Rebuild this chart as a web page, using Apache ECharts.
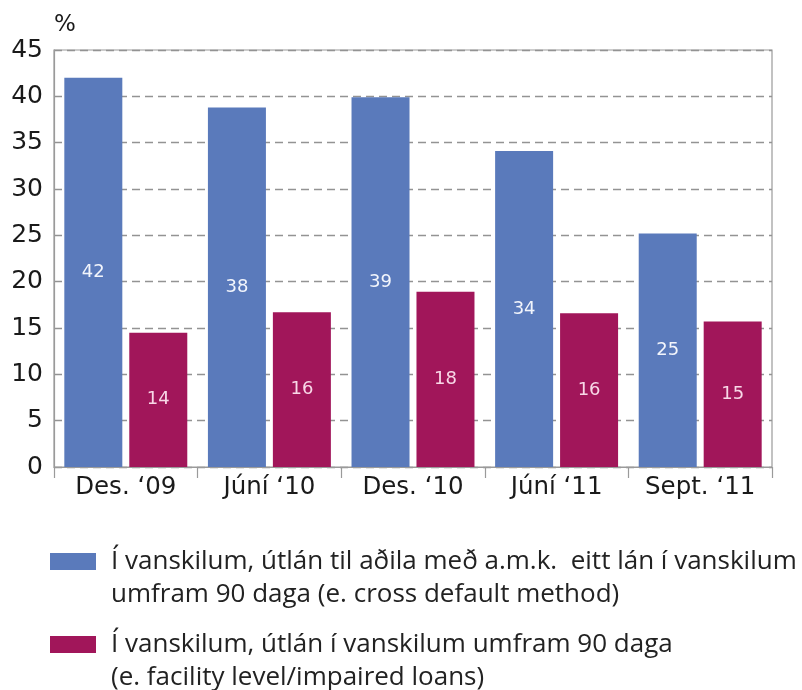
<!DOCTYPE html>
<html>
<head>
<meta charset="utf-8">
<script src="https://cdn.jsdelivr.net/npm/echarts@6/dist/echarts.min.js"></script>
<style>
html,body{margin:0;padding:0;background:#fff;}
#chart{width:802px;height:690px;}
</style>
</head>
<body>
<div id="chart"></div>
<script>
const categories = ['Des. \u201809', 'J\u00fan\u00ed \u201810', 'Des. \u201810', 'J\u00fan\u00ed \u201811', 'Sept. \u201811'];
const crossDefault = [42.0, 38.8, 39.9, 34.1, 25.2];
const facilityLevel = [14.5, 16.7, 18.9, 16.6, 15.7];
const seriesNames = [
  '\u00cd vanskilum, \u00fatl\u00e1n til a\u00f0ila me\u00f0 a.m.k.  eitt l\u00e1n \u00ed vanskilum\numfram 90 daga (e. cross default method)',
  '\u00cd vanskilum, \u00fatl\u00e1n \u00ed vanskilum umfram 90 daga\n(e. facility level/impaired loans)'
];
const yTicks = {min: 0, max: 45, interval: 5};
const unitLabel = '%';

const BLUE = '#5a7abb';
const CRIMSON = '#a1165a';
const AXIS_FONT = "'DejaVu Sans', Verdana, sans-serif";
const LEGEND_FONT = "'Open Sans', 'Noto Sans', sans-serif";
const LH = 33;

const chart = echarts.init(document.getElementById('chart'), null, {renderer: 'canvas'});

function legendFor(name, top) {
  return {
    data: [name],
    left: 50,
    top: top,
    padding: 0,
    orient: 'vertical',
    icon: 'rect',
    itemWidth: 46,
    itemHeight: 17,
    selectedMode: false,
    // leading empty line keeps the swatch level with the first text line
    formatter: n => '\n' + n,
    textStyle: {
      fontFamily: LEGEND_FONT,
      fontSize: 26,
      color: '#222',
      lineHeight: LH,
      padding: [0, 0, 0, 10]
    }
  };
}

const option = {
  animation: false,
  backgroundColor: '#fff',
  grid: {
    left: 54, right: 30, top: 50, bottom: 223,
    containLabel: false,
    outerBoundsMode: 'none',
    show: true,
    borderColor: '#9a9a9a',
    borderWidth: 1.2,
    backgroundColor: 'transparent'
  },
  legend: [
    legendFor(seriesNames[0], 512),
    legendFor(seriesNames[1], 595)
  ],
  xAxis: {
    type: 'category',
    data: categories,
    boundaryGap: true,
    axisLine: {show: true, lineStyle: {color: '#9a9a9a', width: 1.2}},
    axisTick: {show: true, length: 11, lineStyle: {color: '#9a9a9a', width: 1.2}},
    axisLabel: {
      interval: 0,
      fontFamily: AXIS_FONT, fontSize: 24.5, color: '#1a1a1a', margin: 8
    },
    splitLine: {show: false}
  },
  yAxis: {
    type: 'value',
    min: yTicks.min, max: yTicks.max, interval: yTicks.interval,
    name: unitLabel,
    nameLocation: 'end',
    nameGap: 25,
    nameTextStyle: {
      fontFamily: AXIS_FONT, fontSize: 23, color: '#1a1a1a',
      align: 'left', verticalAlign: 'middle'
    },
    axisLine: {show: true, lineStyle: {color: '#9a9a9a', width: 1.2}},
    axisTick: {show: false},
    axisLabel: {
      fontFamily: AXIS_FONT, fontSize: 25, color: '#1a1a1a', margin: 11
    },
    splitLine: {
      show: true,
      lineStyle: {color: '#939393', width: 1.4, type: [8, 5]}
    }
  },
  series: [
    {
      name: seriesNames[0],
      type: 'bar',
      data: crossDefault,
      barWidth: 58,
      barGap: '12%',
      itemStyle: {color: BLUE},
      label: {
        show: true, position: 'inside',
        fontFamily: AXIS_FONT, fontSize: 18, color: '#f2f5fc',
        formatter: p => String(Math.floor(p.value))
      }
    },
    {
      name: seriesNames[1],
      type: 'bar',
      data: facilityLevel,
      barWidth: 58,
      barGap: '12%',
      itemStyle: {color: CRIMSON},
      label: {
        show: true, position: 'inside',
        fontFamily: AXIS_FONT, fontSize: 18, color: '#f8d8e7',
        formatter: p => String(Math.floor(p.value))
      }
    }
  ]
};
chart.setOption(option);
</script>
</body>
</html>
